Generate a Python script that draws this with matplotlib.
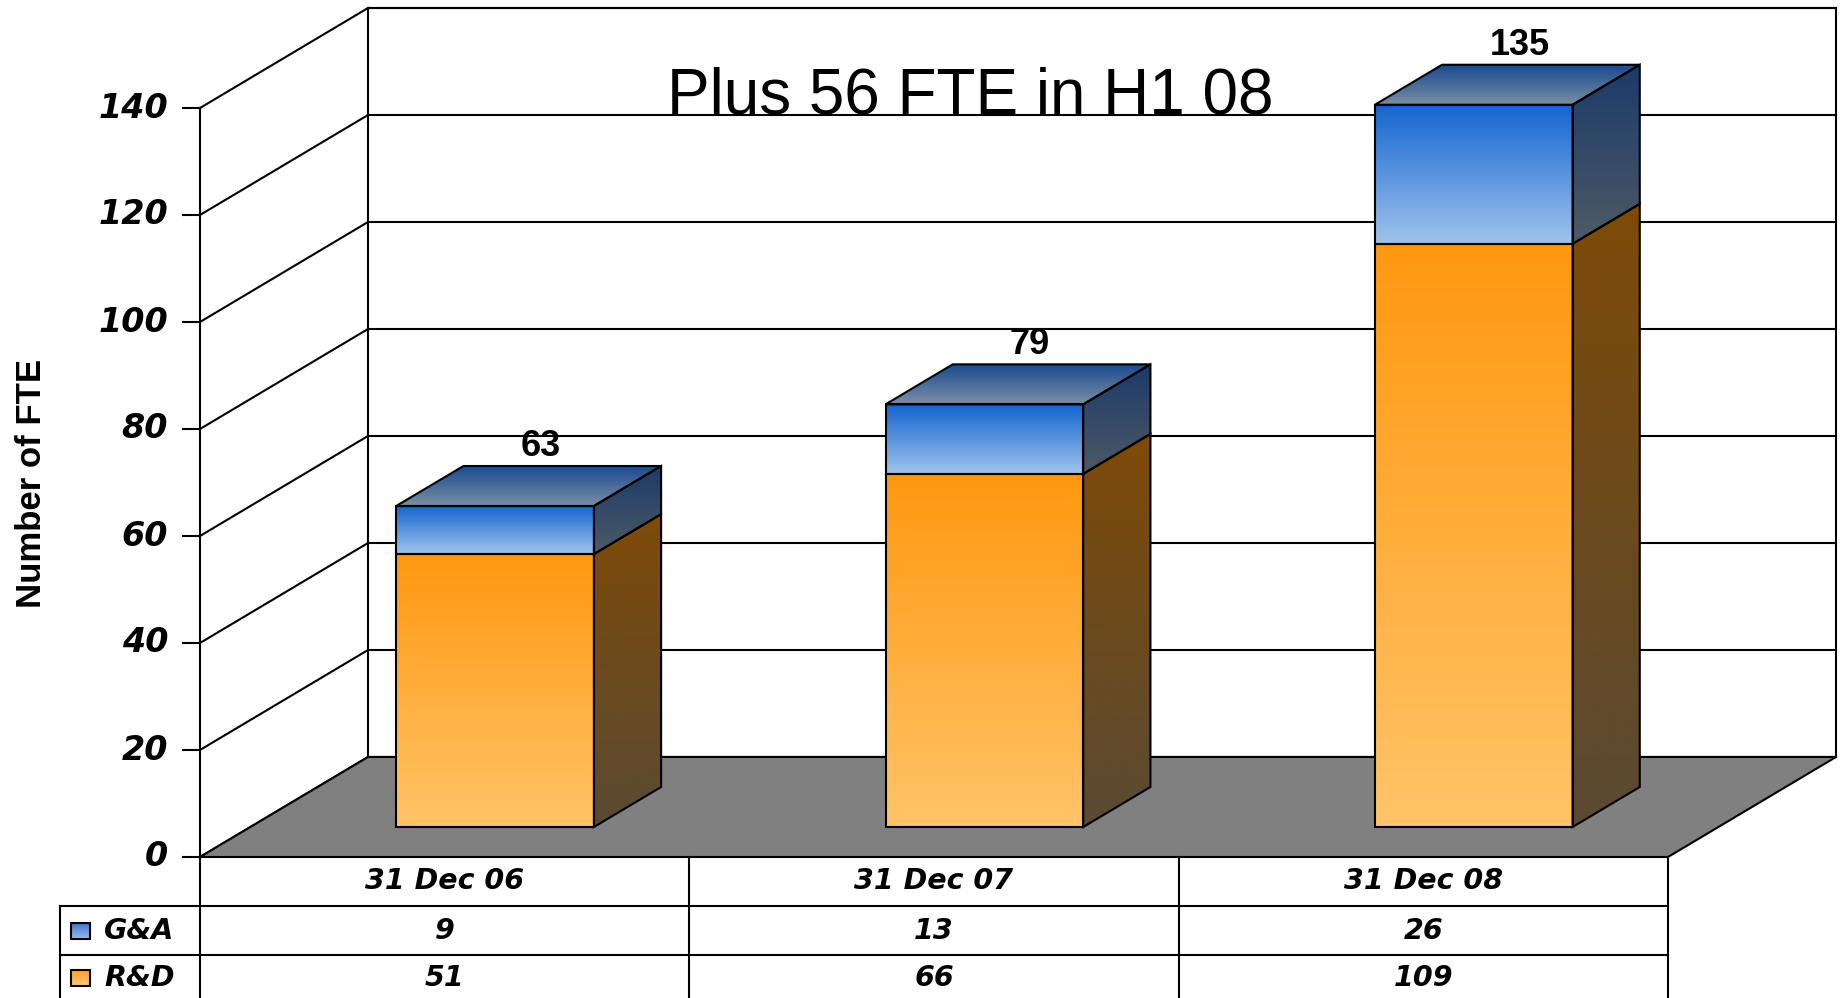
import numpy as np
import matplotlib.pyplot as plt
from matplotlib.patches import Polygon, Rectangle

# datos
categories = ['31 Dec 06', '31 Dec 07', '31 Dec 08']
series = ['G&A', 'R&D']
ga = [9, 13, 26]
rd = [51, 66, 109]
totals = [63, 79, 135]
yticks = [0, 20, 40, 60, 80, 100, 120, 140]
title = 'Plus 56 FTE in H1 08'
ylabel = 'Number of FTE'

# colores (arriba, abajo)
rd_front = ('#FF9810', '#FFC468')
rd_side = ('#7E4A08', '#5A4A33')
ga_front = ('#1464D0', '#A0C4EC')
ga_side = ('#1B3A6A', '#4E5A66')
ga_top = ('#1A4A90', '#7A8FA4')

# escala: px por unidad
sx = 489.33
sy = 5.35
dx = 168 / sx          # profundidad del piso
dy = 100 / sy
lw = 1.5

fig = plt.figure(figsize=(18.42, 9.98), dpi=100)
ax = fig.add_axes([0, 0, 1, 1])
ax.axis('off')


def rgb(c):
    c = c.lstrip('#')
    return np.array([int(c[i:i + 2], 16) for i in (0, 2, 4)]) / 255.0


def grad_poly(verts, c_top, c_bot, z):
    poly = Polygon(verts, closed=True, fc='none', ec='black', lw=lw, zorder=z + 0.1)
    ax.add_patch(poly)
    xs = [v[0] for v in verts]
    ys = [v[1] for v in verts]
    g = np.linspace(0, 1, 256)[:, None, None]
    img = rgb(c_top) * (1 - g) + rgb(c_bot) * g
    im = ax.imshow(img, extent=[min(xs), max(xs), min(ys), max(ys)], origin='upper',
                   aspect='auto', zorder=z, interpolation='bilinear')
    im.set_clip_path(poly)


ncat = len(categories)
top_val = yticks[-1]

# pared del fondo
ax.add_patch(Rectangle((dx, dy), ncat, top_val, fc='white', ec='black', lw=lw, zorder=1))
for v in yticks:
    ax.plot([dx, ncat + dx], [v + dy, v + dy], color='black', lw=lw, zorder=2)
    # pared izquierda
    ax.plot([0, dx], [v, v + dy], color='black', lw=lw, zorder=2)
    ax.plot([-0.035, 0], [v, v], color='black', lw=lw, zorder=2)
    ax.text(-0.065, v, str(v), ha='right', va='center', fontsize=24, fontweight='bold',
            fontstyle='italic', family='DejaVu Sans', zorder=10)
ax.plot([0, 0], [0, top_val], color='black', lw=lw, zorder=2)

# piso
ax.add_patch(Polygon([(0, 0), (ncat, 0), (ncat + dx, dy), (dx, dy)], closed=True,
                     fc='#808080', ec='black', lw=lw, zorder=3))

# barras
bw = 0.404
f0 = 0.3
bd = 0.4
for i in range(ncat):
    x0 = i + 0.5 - bw / 2 + f0 * dx
    x1 = x0 + bw
    y0 = f0 * dy
    ddx, ddy = bd * dx, bd * dy
    segs = [(rd[i], rd_front, rd_side), (ga[i], ga_front, ga_side)]
    base = y0
    for val, cf, cs in segs:
        ytop = base + val
        grad_poly([(x0, base), (x1, base), (x1, ytop), (x0, ytop)], cf[0], cf[1], 5)
        grad_poly([(x1, base), (x1 + ddx, base + ddy), (x1 + ddx, ytop + ddy), (x1, ytop)],
                  cs[0], cs[1], 5)
        base = ytop
    grad_poly([(x0, base), (x1, base), (x1 + ddx, base + ddy), (x0 + ddx, base + ddy)],
              ga_top[0], ga_top[1], 5)
    ax.text(x0 + bw / 2 + 0.68 * ddx, base + ddy + 0.4, str(totals[i]), ha='center',
            va='bottom', fontsize=26, fontweight='bold', family='Liberation Sans', zorder=10)

# titulo
ax.text(1.574, 138.9, title, ha='center', va='baseline', fontsize=46,
        family='Liberation Sans', zorder=10)
ax.text(-0.345, 69.9, ylabel, rotation=90, ha='center', va='center', fontsize=25,
        fontweight='bold', family='Liberation Sans', zorder=10)

# tabla
ybot = -26.36
r1 = -49 / sy
r2 = -98 / sy
xleg = -140 / sx
ax.plot([xleg, ncat], [r1, r1], color='black', lw=lw, zorder=4)
ax.plot([xleg, ncat], [r2, r2], color='black', lw=lw, zorder=4)
ax.plot([xleg, xleg], [r1, ybot], color='black', lw=lw, zorder=4)
for k in range(ncat + 1):
    ax.plot([k, k], [0, ybot], color='black', lw=lw, zorder=4)

tkw = dict(ha='center', va='center', fontsize=20.5, fontweight='bold', fontstyle='italic',
           family='DejaVu Sans', zorder=10)
rows_y = [-24 / sy, -74 / sy, -121 / sy]
for i, c in enumerate(categories):
    ax.text(i + 0.5, rows_y[0], c, **tkw)
    ax.text(i + 0.5, rows_y[1], str(ga[i]), **tkw)
    ax.text(i + 0.5, rows_y[2], str(rd[i]), **tkw)

keys = [(ga_front, rows_y[1]), (rd_front, rows_y[2])]
for name, (cols, yc) in zip(series, keys):
    kx0 = -129 / sx
    kx1 = -110 / sx
    grad_poly([(kx0, yc - 1.5), (kx1, yc - 1.5), (kx1, yc + 1.5), (kx0, yc + 1.5)],
              '#3C6EC8' if name == 'G&A' else '#FFA028',
              '#96BEF0' if name == 'G&A' else '#FFC86E', 6)
    ax.text(-96 / sx, yc, name, ha='left', va='center', fontsize=20.5, fontweight='bold',
            fontstyle='italic', family='DejaVu Sans', zorder=10)

ax.set_xlim(-200 / sx, (1842 - 200) / sx)
ax.set_ylim(-(998 - 857) / sy, 857 / sy)

plt.savefig('out.png', dpi=100)
